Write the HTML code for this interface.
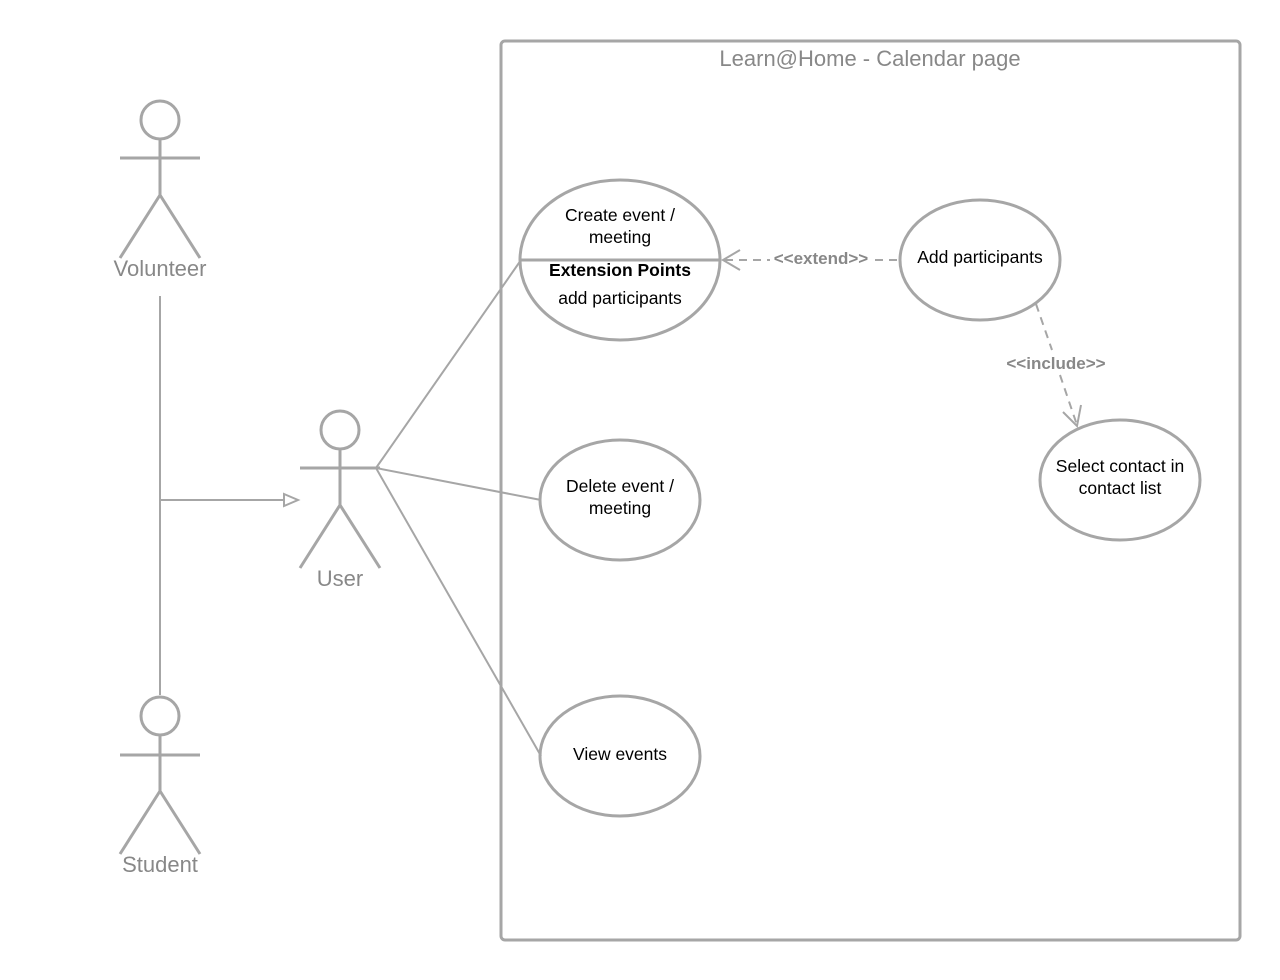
<!DOCTYPE html>
<html><head><style>body{margin:0;background:#fff}svg{display:block}</style></head><body>
<svg width="1280" height="980" xmlns="http://www.w3.org/2000/svg" font-family="Liberation Sans, sans-serif">
<g fill="none" stroke="#a6a6a6" stroke-width="3">
<rect x="501" y="41" width="739" height="899" rx="4"/>
<circle cx="160" cy="120" r="19"/><line x1="160" y1="139" x2="160" y2="195"/><line x1="120" y1="158" x2="200" y2="158"/><polyline points="120,258 160,195 200,258"/>
<circle cx="160" cy="716" r="19"/><line x1="160" y1="735" x2="160" y2="791"/><line x1="120" y1="755" x2="200" y2="755"/><polyline points="120,854 160,791 200,854"/>
<circle cx="340" cy="430" r="19"/><line x1="340" y1="449" x2="340" y2="505"/><line x1="300" y1="468" x2="380" y2="468"/><polyline points="300,568 340,505 380,568"/>
<ellipse cx="620" cy="260" rx="100" ry="80"/>
<line x1="520" y1="260" x2="720" y2="260"/>
<ellipse cx="620" cy="500" rx="80" ry="60"/>
<ellipse cx="620" cy="756" rx="80" ry="60"/>
<ellipse cx="980" cy="260" rx="80" ry="60"/>
<ellipse cx="1120" cy="480" rx="80" ry="60"/>
</g>
<g fill="none" stroke="#a6a6a6" stroke-width="2">
<line x1="160" y1="296" x2="160" y2="695"/>
<line x1="160" y1="500" x2="298" y2="500"/>
<polygon points="284,494 298,500 284,506" fill="#fff"/>
<line x1="376" y1="468" x2="521" y2="260"/>
<line x1="376" y1="468" x2="541" y2="500"/>
<line x1="376" y1="468" x2="541" y2="756"/>
<line x1="725" y1="260" x2="770" y2="260" stroke-dasharray="8,6"/>
<line x1="875" y1="260" x2="900" y2="260" stroke-dasharray="8,6"/>
<polyline points="740,250 723,260 740,270"/>
<line x1="1036" y1="304" x2="1052" y2="350" stroke-dasharray="8,6"/>
<line x1="1060" y1="375" x2="1077" y2="425" stroke-dasharray="8,6"/>
<polyline points="1063,412 1077,426 1081,405"/>
</g>
<g fill="#888" font-size="22" text-anchor="middle">
<text x="870" y="66">Learn@Home - Calendar page</text>
<text x="160" y="276">Volunteer</text>
<text x="160" y="872">Student</text>
<text x="340" y="586">User</text>
</g>
<g fill="#888" font-size="17" font-weight="bold" text-anchor="middle">
<text x="821" y="264">&lt;&lt;extend&gt;&gt;</text>
<text x="1056" y="369">&lt;&lt;include&gt;&gt;</text>
</g>
<g fill="#000" font-size="17.5" text-anchor="middle">
<text x="620" y="221">Create event /</text>
<text x="620" y="243">meeting</text>
<text x="620" y="276" font-weight="bold">Extension Points</text>
<text x="620" y="304">add participants</text>
<text x="620" y="492">Delete event /</text>
<text x="620" y="514">meeting</text>
<text x="620" y="760">View events</text>
<text x="980" y="263">Add participants</text>
<text x="1120" y="472">Select contact in</text>
<text x="1120" y="494">contact list</text>
</g>
</svg>
</body></html>
